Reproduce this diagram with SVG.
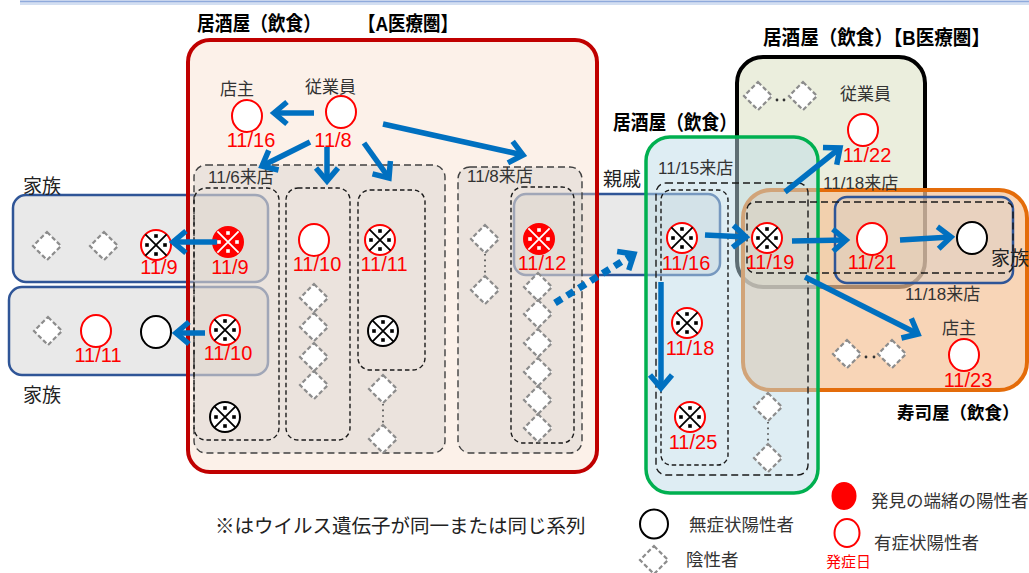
<svg xmlns="http://www.w3.org/2000/svg" width="1029" height="573" viewBox="0 0 1029 573">
<style>
text{font-family:"Liberation Sans","Noto Sans CJK JP",sans-serif;}
.lbl{fill:#ff0000;font-size:20px;text-anchor:middle;}
.jp{fill:#333;font-size:17px;}
.fam{fill:#222;font-size:19px;}
.ttl{fill:#000;font-size:20px;font-weight:bold;}
.lg{fill:#333;font-size:17.5px;}
.dash-o{fill:#d2cfca;fill-opacity:0.4;stroke:#404040;stroke-width:1.4;stroke-dasharray:7 4;}
.dash-i{fill:none;stroke:#1a1a1a;stroke-width:1.4;stroke-dasharray:4.5 3;}
.dash-n{fill:none;stroke:#1a1a1a;stroke-width:1.4;stroke-dasharray:7 4;}
.famb{fill:#e9e9e9;stroke:#2f5597;stroke-width:2.5;}
.arr{fill:none;stroke:#0070c0;stroke-width:5.5;marker-end:url(#ah);}
.arrd{fill:none;stroke:#0070c0;stroke-width:7;stroke-dasharray:8 6;marker-end:url(#ah);}
.dotl{stroke:#555;stroke-width:1.8;stroke-dasharray:1.6 4;}
.pos{fill:#fff;stroke:#ff0000;stroke-width:2;}
.asym{fill:#fff;stroke:#000;stroke-width:2;}
.dd{fill:#333;}
</style>
<defs>
<marker id="ah" markerUnits="userSpaceOnUse" markerWidth="40" markerHeight="40" viewBox="-20 -20 40 40" refX="0" refY="0" orient="auto" overflow="visible">
<path d="M-13,-11 L0,0 L-13,11" fill="none" stroke="#0070c0" stroke-width="5.5"/>
</marker>
<g id="dia"><path d="M0,-14 L14,0 L0,14 L-14,0 Z" fill="#fff" stroke="#8c8c8c" stroke-width="2.2" stroke-dasharray="4.5 2.5"/></g>
<g id="kr">
<circle r="15" fill="#fff" stroke="#ff0000" stroke-width="2"/>
<path d="M-10.6,-10.6 L10.6,10.6 M10.6,-10.6 L-10.6,10.6" stroke="#000" stroke-width="1.8"/>
<rect x="-1.8" y="-10.8" width="3.6" height="3.6" fill="#000"/><rect x="-1.8" y="7.2" width="3.6" height="3.6" fill="#000"/>
<rect x="-10.8" y="-1.8" width="3.6" height="3.6" fill="#000"/><rect x="7.2" y="-1.8" width="3.6" height="3.6" fill="#000"/>
</g>
<g id="kb">
<circle r="15" fill="#fff" stroke="#000" stroke-width="2"/>
<path d="M-10.6,-10.6 L10.6,10.6 M10.6,-10.6 L-10.6,10.6" stroke="#000" stroke-width="1.8"/>
<rect x="-1.8" y="-10.8" width="3.6" height="3.6" fill="#000"/><rect x="-1.8" y="7.2" width="3.6" height="3.6" fill="#000"/>
<rect x="-10.8" y="-1.8" width="3.6" height="3.6" fill="#000"/><rect x="7.2" y="-1.8" width="3.6" height="3.6" fill="#000"/>
</g>
<g id="kf">
<circle r="15" fill="#ff0000" stroke="#ff0000" stroke-width="2"/>
<path d="M-10.6,-10.6 L10.6,10.6 M10.6,-10.6 L-10.6,10.6" stroke="#fff" stroke-width="1.8"/>
<rect x="-1.8" y="-10.8" width="3.6" height="3.6" fill="#fff"/><rect x="-1.8" y="7.2" width="3.6" height="3.6" fill="#fff"/>
<rect x="-10.8" y="-1.8" width="3.6" height="3.6" fill="#fff"/><rect x="7.2" y="-1.8" width="3.6" height="3.6" fill="#fff"/>
</g>
</defs>

<rect x="20" y="0.5" width="1009" height="2" fill="#8faadc"/>
<line x1="20" y1="4" x2="1029" y2="4" stroke="#c5d5ee" stroke-width="1.5"/>

<!-- background containers -->
<g id="family-box-1"><rect class="famb" x="13" y="195" width="255" height="87" rx="13"/></g>
<g id="family-box-2"><rect class="famb" x="9" y="287" width="259" height="88" rx="13"/></g>
<g id="relative-box"><rect class="famb" x="514" y="194" width="206" height="81" rx="12"/></g>

<g id="izakaya-a">
<rect x="188" y="40" width="409" height="432" rx="22" fill="#f8dcc8" fill-opacity="0.4" stroke="#c00000" stroke-width="4"/>
<text class="ttl" x="197" y="31" textLength="124" lengthAdjust="spacingAndGlyphs">居酒屋（飲食）</text>
<text class="ttl" x="358" y="31" textLength="100" lengthAdjust="spacingAndGlyphs">【A医療圏】</text>
</g>
<g id="izakaya-b">
<rect x="737" y="57" width="188" height="230" rx="26" fill="#ebeedd" stroke="#000" stroke-width="4"/>
<text class="ttl" x="763" y="45" textLength="227" lengthAdjust="spacingAndGlyphs">居酒屋（飲食）【B医療圏】</text>
</g>
<g id="sushi">
<rect x="743" y="190" width="284" height="200" rx="28" fill="#f5c399" fill-opacity="0.7" stroke="#e46c0a" stroke-width="4"/>
<text class="ttl" x="897" y="419" style="font-size:17.5px">寿司屋（飲食）</text>
</g>
<g id="izakaya-green">
<rect x="646" y="137" width="172" height="356" rx="24" fill="#bddbe7" fill-opacity="0.5" stroke="#00b050" stroke-width="3.5"/>
<text class="ttl" x="613" y="130" textLength="124" lengthAdjust="spacingAndGlyphs">居酒屋（飲食）</text>
</g>
<g id="family-box-3"><rect x="835" y="197" width="178" height="86" rx="12" fill="#cfcfcf" fill-opacity="0.35" stroke="#2f5597" stroke-width="2.5"/></g>

<!-- visit groups -->
<g id="visit-11-6">
<rect class="dash-o" x="194" y="165" width="251" height="288" rx="12"/>
<rect class="dash-i" x="194" y="188" width="85" height="252" rx="12"/>
<rect class="dash-i" x="286" y="188" width="64" height="252" rx="12"/>
<rect class="dash-i" x="358" y="190" width="67" height="180" rx="12"/>
<text class="jp" x="208" y="183">11/6来店</text>
</g>
<g id="visit-11-8">
<rect class="dash-o" x="458" y="167" width="124" height="286" rx="12"/>
<rect class="dash-i" x="511" y="187" width="63" height="256" rx="12"/>
<text class="jp" x="467" y="182">11/8来店</text>
</g>
<g id="visit-11-15">
<rect class="dash-n" x="656" y="183" width="152" height="292" rx="10"/>
<rect class="dash-i" x="661" y="190" width="67" height="275" rx="10"/>
<text class="jp" x="658" y="174">11/15来店</text>
</g>
<g id="visit-11-18">
<rect class="dash-n" x="747" y="202" width="266" height="71" rx="8"/>
<text class="jp" x="823" y="189">11/18来店</text>
<text class="jp" x="905" y="300">11/18来店</text>
</g>

<text class="fam" x="23" y="193">家族</text>
<text class="fam" x="23" y="402">家族</text>
<text class="fam" x="991" y="265">家族</text>
<text class="fam" x="603" y="186">親戚</text>

<!-- nodes A -->
<g id="owner-a"><text class="jp" x="220" y="95">店主</text><ellipse class="pos" cx="247" cy="116" rx="15" ry="16"/><text class="lbl" x="251" y="147">11/16</text></g>
<g id="staff-a"><text class="jp" x="305" y="93">従業員</text><ellipse class="pos" cx="341" cy="112" rx="15" ry="16"/><text class="lbl" x="333" y="147">11/8</text></g>
<g id="a-11-9"><use href="#kf" x="228" y="242"/><text class="lbl" x="230" y="274">11/9</text></g>
<g id="a-11-10"><use href="#kr" x="225" y="330"/><text class="lbl" x="228" y="360">11/10</text></g>
<g id="a-asym-1"><use href="#kb" x="225" y="417"/></g>
<g id="a-col2"><ellipse class="pos" cx="314" cy="240" rx="15" ry="16"/><text class="lbl" x="317" y="271">11/10</text>
<use href="#dia" x="314" y="298"/><use href="#dia" x="314" y="327"/><use href="#dia" x="314" y="357"/><use href="#dia" x="314" y="385"/></g>
<g id="a-col3"><use href="#kr" x="380" y="240"/><text class="lbl" x="384" y="271">11/11</text><use href="#kb" x="383" y="331"/>
<use href="#dia" x="383" y="389"/><line class="dotl" x1="383" y1="404" x2="383" y2="425"/><use href="#dia" x="383" y="439"/></g>
<g id="a-11-8-left"><use href="#dia" x="485" y="239"/><line class="dotl" x1="485" y1="254" x2="485" y2="276"/><use href="#dia" x="485" y="290"/></g>
<g id="a-11-12"><use href="#kf" x="539" y="239"/><text class="lbl" x="542" y="270">11/12</text>
<use href="#dia" x="538" y="287"/><use href="#dia" x="538" y="314"/><use href="#dia" x="538" y="343"/><use href="#dia" x="538" y="372"/><use href="#dia" x="538" y="400"/><use href="#dia" x="538" y="428"/></g>

<!-- family nodes -->
<g id="fam1"><use href="#dia" x="47" y="246"/><use href="#dia" x="104" y="246"/><use href="#kr" x="156" y="245"/><text class="lbl" x="159" y="274">11/9</text></g>
<g id="fam2"><use href="#dia" x="48" y="331"/><ellipse class="pos" cx="96" cy="331" rx="15" ry="16"/><text class="lbl" x="98" y="362">11/11</text><ellipse class="asym" cx="156" cy="332" rx="15" ry="16"/></g>

<!-- green -->
<g id="g-11-16"><use href="#kr" x="682" y="238"/><text class="lbl" x="686" y="270">11/16</text></g>
<g id="g-11-18"><use href="#kr" x="687" y="323"/><text class="lbl" x="690" y="355">11/18</text></g>
<g id="g-11-25"><use href="#kr" x="690" y="417"/><text class="lbl" x="693" y="449">11/25</text></g>
<g id="g-neg"><use href="#dia" x="768" y="407"/><line class="dotl" x1="768" y1="422" x2="768" y2="444"/><use href="#dia" x="768" y="458"/></g>

<!-- B -->
<g id="b-neg"><use href="#dia" x="758" y="96"/><circle class="dd" cx="777" cy="100" r="1.4"/><circle class="dd" cx="784" cy="100" r="1.4"/><use href="#dia" x="803" y="96"/></g>
<g id="b-staff"><text class="jp" x="840" y="100">従業員</text><ellipse class="pos" cx="863" cy="130" rx="15" ry="16"/><text class="lbl" x="867" y="162">11/22</text></g>
<g id="n-11-19"><use href="#kr" x="767" y="238"/><text class="lbl" x="770" y="269">11/19</text></g>
<g id="n-11-21"><ellipse class="pos" cx="872" cy="239" rx="15" ry="16"/><text class="lbl" x="872" y="269">11/21</text></g>
<g id="n-fam3"><ellipse class="asym" cx="972" cy="238" rx="15" ry="16"/></g>

<!-- sushi -->
<g id="s-owner"><text class="jp" x="942" y="334">店主</text><ellipse class="pos" cx="964" cy="355" rx="15" ry="16"/><text class="lbl" x="968" y="387">11/23</text></g>
<g id="s-neg"><use href="#dia" x="847" y="354"/><circle class="dd" cx="866" cy="357" r="1.4"/><circle class="dd" cx="874" cy="357" r="1.4"/><use href="#dia" x="892" y="354"/></g>

<!-- connectors -->
<g id="connectors">
<line class="arr" x1="314" y1="113" x2="274" y2="113"/>
<line class="arr" x1="310" y1="142" x2="262" y2="166"/>
<line class="arr" x1="327" y1="147" x2="327" y2="181"/>
<line class="arr" x1="364" y1="143" x2="389" y2="178"/>
<line class="arr" x1="383" y1="124" x2="523" y2="155"/>
<line class="arr" x1="217" y1="242" x2="173" y2="242"/>
<line class="arr" x1="205" y1="333" x2="176" y2="333"/>
<line class="arrd" x1="555" y1="303" x2="634" y2="254"/>
<line class="arr" x1="705" y1="235" x2="746" y2="237"/>
<line class="arr" x1="661" y1="282" x2="661" y2="388"/>
<line class="arr" x1="792" y1="241" x2="846" y2="240"/>
<line class="arr" x1="900" y1="240" x2="951" y2="237"/>
<line class="arr" x1="785" y1="192" x2="840" y2="148"/>
<line class="arr" x1="805" y1="277" x2="918" y2="334"/>
</g>

<!-- legend -->
<g id="legend">
<text x="215" y="533" style="font-size:19.5px;fill:#222">※はウイルス遺伝子が同一または同じ系列</text>
<ellipse class="asym" cx="654" cy="524" rx="14" ry="14.5"/>
<text class="lg" x="689" y="531">無症状陽性者</text>
<use href="#dia" x="654" y="560"/>
<text class="lg" x="686" y="566">陰性者</text>
<ellipse cx="844" cy="496" rx="12.5" ry="14" fill="#ff0000"/>
<text class="lg" x="871" y="507">発見の端緒の陽性者</text>
<ellipse class="pos" cx="847" cy="533" rx="12.5" ry="14"/>
<text class="lg" x="874" y="549">有症状陽性者</text>
<text x="826" y="567" style="font-size:15px;fill:#ff0000">発症日</text>
</g>
</svg>
